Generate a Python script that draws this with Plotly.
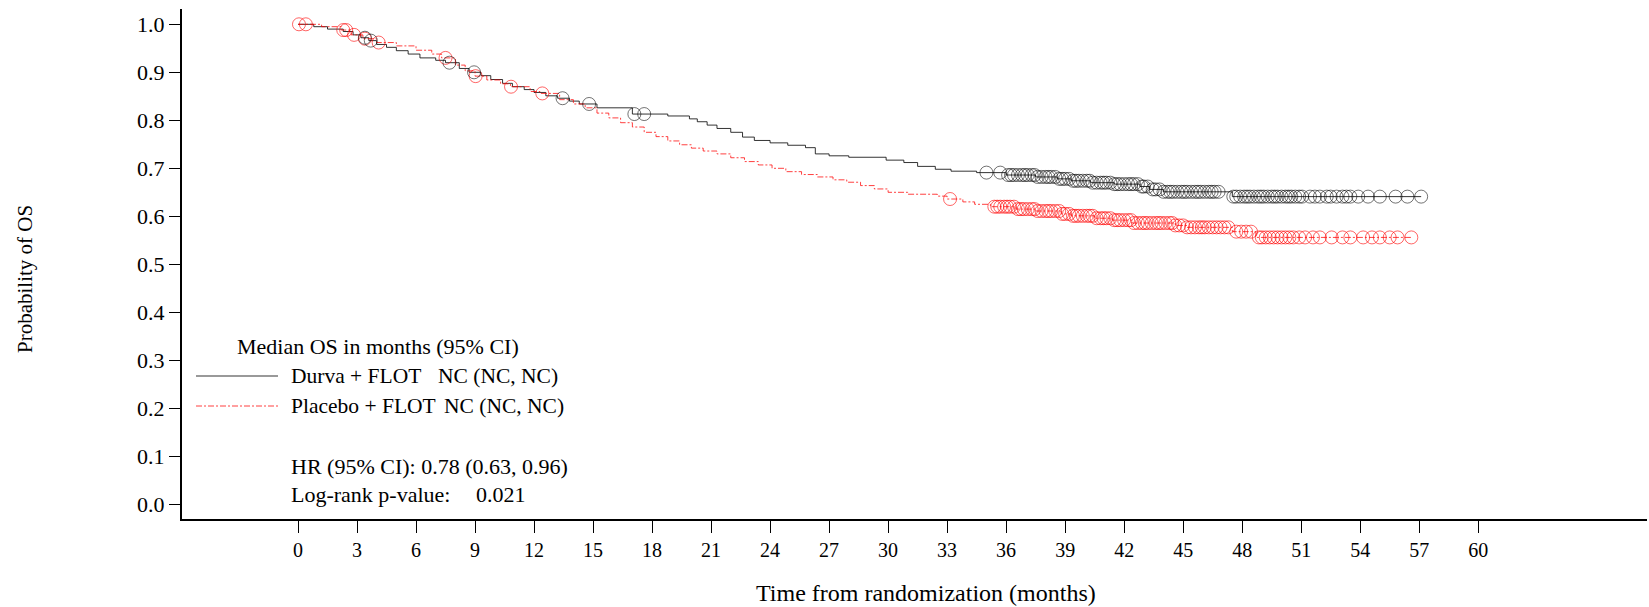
import numpy as np
import plotly.graph_objects as go

# ---------------- data ----------------
durva_t = [0, 0.8, 1.5, 2.3, 2.8, 3.2, 3.6, 4.0, 4.5, 5.0, 5.6, 6.2, 7.0, 7.5, 8.2, 8.7,
           9.3, 9.8, 10.4, 10.9, 11.5, 12.0, 12.6, 13.2, 13.8, 14.3, 15.2, 17.0, 18.8,
           19.9, 20.3, 20.8, 21.3, 22.0, 22.6, 23.2, 24.0, 24.9, 25.8, 26.3, 27.0, 28.0,
           29.9, 30.8, 31.5, 32.4, 33.2, 34.5, 36.0, 37.5, 38.6, 39.3, 40.3, 41.5, 42.8,
           43.3, 44.0, 47.5, 57.1]
durva_s = [1.0, 0.995, 0.99, 0.985, 0.978, 0.972, 0.966, 0.958, 0.952, 0.945, 0.938, 0.930,
           0.925, 0.920, 0.908, 0.900, 0.893, 0.885, 0.877, 0.870, 0.864, 0.858, 0.851,
           0.846, 0.840, 0.834, 0.826, 0.813, 0.809, 0.803, 0.797, 0.790, 0.783, 0.775,
           0.765, 0.758, 0.753, 0.748, 0.743, 0.730, 0.726, 0.723, 0.717, 0.712, 0.704,
           0.698, 0.694, 0.691, 0.686, 0.682, 0.678, 0.674, 0.670, 0.667, 0.662, 0.656,
           0.651, 0.641, 0.641]

placebo_t = [0, 1.2, 2.2, 2.7, 3.3, 4.0, 5.0, 6.0, 6.8, 7.3, 8.0, 8.5, 9.0, 9.6, 10.3,
             10.8, 11.8, 12.3, 13.3, 14.0, 14.6, 15.2, 15.8, 16.4, 17.0, 17.6, 18.2, 18.8,
             19.4, 20.0, 20.6, 21.3, 22.0, 22.7, 23.4, 24.1, 24.8, 25.6, 26.4, 27.2, 27.9,
             28.6, 29.3, 30.0, 31.0, 32.5, 33.0, 33.8, 34.4, 35.2, 36.5, 37.5, 38.8, 39.3,
             40.5, 41.4, 42.4, 44.6, 45.2, 47.5, 48.7, 56.6]
placebo_s = [1.0, 0.995, 0.988, 0.978, 0.970, 0.962, 0.955, 0.946, 0.938, 0.930, 0.915,
             0.903, 0.892, 0.884, 0.876, 0.870, 0.860, 0.856, 0.843, 0.834, 0.826, 0.815,
             0.805, 0.795, 0.786, 0.775, 0.766, 0.757, 0.749, 0.742, 0.736, 0.730, 0.722,
             0.714, 0.707, 0.700, 0.693, 0.687, 0.682, 0.676, 0.671, 0.664, 0.657, 0.650,
             0.646, 0.642, 0.636, 0.630, 0.625, 0.620, 0.615, 0.611, 0.605, 0.601, 0.596,
             0.592, 0.586, 0.581, 0.577, 0.568, 0.556, 0.556]

durva_censor = [3.4, 3.7, 7.7, 8.95, 13.45, 14.8, 17.1, 17.6, 35.0, 35.7,
                36.1, 36.25, 36.4, 36.6, 36.8, 36.95, 37.1, 37.3, 37.45, 37.6, 37.8, 38.0,
                38.15, 38.3, 38.5, 38.7, 38.85, 39.0, 39.2, 39.4, 39.55, 39.7, 39.9, 40.1,
                40.25, 40.4, 40.6, 40.8, 40.95, 41.1, 41.3, 41.5, 41.65, 41.8, 42.0, 42.2,
                42.35, 42.5, 42.7, 42.9, 43.0, 43.2, 43.45, 43.6, 43.8, 44.0, 44.2, 44.35,
                44.5, 44.7, 44.9, 45.05, 45.2, 45.4, 45.6, 45.75, 45.9, 46.1, 46.3, 46.45,
                46.6, 46.8, 47.55, 47.7, 47.9, 48.1, 48.25, 48.4, 48.6, 48.8, 48.95, 49.1,
                49.3, 49.5, 49.65, 49.8, 50.0, 50.2, 50.35, 50.5, 50.7, 50.9, 51.05, 51.45,
                51.7, 51.95, 52.3, 52.5, 52.8, 53.1, 53.3, 53.5, 53.9, 54.4, 55.0, 55.8,
                56.4, 57.1]
placebo_censor = [0.05, 0.4, 2.3, 2.45, 2.85, 3.4, 4.1, 7.5, 9.03, 10.83, 12.42, 33.15,
                  35.4, 35.55, 35.7, 35.9, 36.05, 36.2, 36.4, 36.6, 36.75, 36.9, 37.1, 37.3,
                  37.45, 37.6, 37.8, 38.0, 38.15, 38.3, 38.5, 38.7, 38.85, 39.0, 39.2, 39.4,
                  39.55, 39.7, 39.9, 40.1, 40.25, 40.4, 40.6, 40.8, 40.95, 41.1, 41.3, 41.5,
                  41.65, 41.8, 42.0, 42.2, 42.35, 42.5, 42.7, 42.9, 43.05, 43.2, 43.4, 43.6,
                  43.75, 43.9, 44.1, 44.3, 44.45, 44.6, 44.8, 45.0, 45.2, 45.4, 45.6, 45.8,
                  45.95, 46.1, 46.3, 46.5, 46.7, 46.9, 47.1, 47.3, 47.7, 47.95, 48.2, 48.45,
                  48.85, 49.0, 49.2, 49.4, 49.6, 49.8, 50.0, 50.2, 50.4, 50.6, 50.9, 51.2,
                  51.6, 51.95, 52.55, 53.1, 53.5, 54.15, 54.6, 55.0, 55.5, 55.9, 56.6]

x_ticks = list(range(0, 61, 3))
y_ticks = [0.0, 0.1, 0.2, 0.3, 0.4, 0.5, 0.6, 0.7, 0.8, 0.9, 1.0]

legend_title = "Median OS in months (95% CI)"
arm_names = ["Durva + FLOT", "Placebo + FLOT"]
arm_medians = ["NC (NC, NC)", "NC (NC, NC)"]
hr_text = "HR (95% CI): 0.78 (0.63, 0.96)"
p_label = "Log-rank p-value:"
p_value = "0.021"


def step_value(times, surv, c):
    i = np.searchsorted(np.asarray(times), c, side="right") - 1
    return np.asarray(surv)[i]


FONT = "Liberation Serif, Times New Roman, serif"
W, H = 1649, 607
ML, MR, MT, MB = 182, 2, 9, 88
PW, PH = W - ML - MR, H - MT - MB


def px(x):
    return (x - ML) / PW


def py(y):
    return (H - MB - y) / PH


BLACK_LINE = "rgba(0,0,0,0.8)"
RED_LINE = "rgba(255,0,0,0.75)"
BLACK_MK = "rgba(0,0,0,0.55)"
RED_MK = "rgba(255,0,0,0.6)"

fig = go.Figure()
fig.add_trace(go.Scatter(x=durva_t, y=durva_s, mode="lines", line_shape="hv",
                         line=dict(color=BLACK_LINE, width=1), showlegend=False,
                         name=arm_names[0]))
fig.add_trace(go.Scatter(x=placebo_t, y=placebo_s, mode="lines", line_shape="hv",
                         line=dict(color=RED_LINE, width=1, dash="6px,2px,2px,2px"),
                         showlegend=False, name=arm_names[1]))
fig.add_trace(go.Scatter(x=placebo_censor,
                         y=[step_value(placebo_t, placebo_s, c) for c in placebo_censor],
                         mode="markers", showlegend=False,
                         marker=dict(symbol="circle-open", size=13,
                                     line=dict(color=RED_MK, width=1), color=RED_MK)))
fig.add_trace(go.Scatter(x=durva_censor,
                         y=[step_value(durva_t, durva_s, c) for c in durva_censor],
                         mode="markers", showlegend=False,
                         marker=dict(symbol="circle-open", size=13,
                                     line=dict(color=BLACK_MK, width=1), color=BLACK_MK)))

x0 = (ML - 298) / 19.67
x1 = (W - MR - 298) / 19.67
y0 = (504.3 - (H - MB)) / 480
y1 = (504.3 - MT) / 480

fig.update_xaxes(range=[x0, x1], tickvals=x_ticks, ticks="outside", ticklen=12,
                 tickcolor="black", tickwidth=1, showline=True, linecolor="black",
                 linewidth=1.5, showgrid=False, zeroline=False,
                 tickfont=dict(family=FONT, size=20, color="black"))
fig.update_yaxes(range=[y0, y1], tickvals=y_ticks, tickformat=".1f", ticks="outside",
                 ticklen=11, tickcolor="black", tickwidth=1, showline=True,
                 linecolor="black", linewidth=2, showgrid=False, zeroline=False,
                 tickfont=dict(family=FONT, size=22, color="black"))

anns = []


def txt(text, x, y, size=21.5, xanchor="left", **kw):
    anns.append(dict(text=text, x=px(x), y=py(y), xref="paper", yref="paper",
                     xanchor=xanchor, yanchor="middle", showarrow=False,
                     font=dict(family=FONT, size=size, color="black"), **kw))


txt(legend_title, 235, 346, size=22)
txt(arm_names[0], 289, 376)
txt(arm_medians[0], 436, 376)
txt(arm_names[1], 289, 406)
txt(arm_medians[1], 442, 406)
txt(hr_text, 289, 466, size=22)
txt(p_label, 289, 494, size=22)
txt(p_value, 474, 494, size=22)
txt("Time from randomization (months)", 926, 593, size=24, xanchor="center")
txt("Probability of OS", 25, 279, size=21, xanchor="center", textangle=-90)

shapes = [
    dict(type="line", xref="paper", yref="paper", x0=px(196), x1=px(278), y0=py(376),
         y1=py(376), line=dict(color=BLACK_LINE, width=1)),
    dict(type="line", xref="paper", yref="paper", x0=px(196), x1=px(278), y0=py(406),
         y1=py(406), line=dict(color=RED_LINE, width=1, dash="6px,2px,2px,2px")),
]

fig.update_layout(width=W, height=H, autosize=False,
                  margin=dict(l=ML, r=MR, t=MT, b=MB, pad=0),
                  paper_bgcolor="white", plot_bgcolor="white",
                  annotations=anns, shapes=shapes,
                  font=dict(family=FONT, color="black"))

fig.write_html("out.html", config={"displayModeBar": False},
               post_script="document.body.style.margin='0';document.body.style.overflow='hidden';")
